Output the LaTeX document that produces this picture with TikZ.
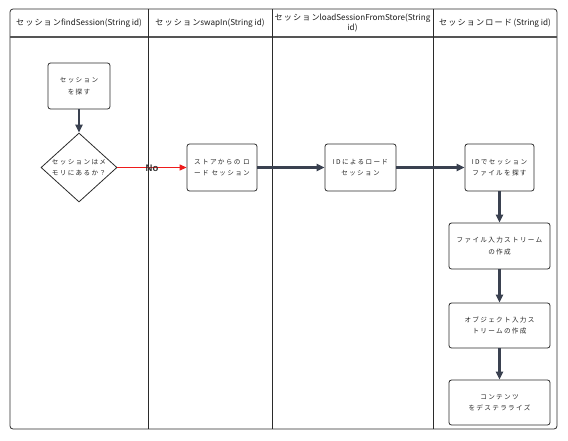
\documentclass[tikz,border=0pt]{standalone}
\usepackage{fontspec}
\setmainfont{Noto Sans CJK JP}
\newfontfamily\jp{Noto Sans CJK JP}[LetterSpace=20]
\newfontfamily\jphead{Noto Sans CJK JP}[LetterSpace=14]
\newfontfamily\latinbold{Liberation Sans}
\usetikzlibrary{shapes.geometric,arrows.meta}
\definecolor{edge}{HTML}{3A4150}
\definecolor{frame}{HTML}{2B2B2B}
\definecolor{noarrow}{HTML}{EE1C1C}
\tikzset{
  every node/.style={font=\jp\fontsize{6.6}{11.5}\selectfont, align=center, text=black!85},
  procbox/.style={draw=frame, line width=0.8pt, rounded corners=2.5pt, inner sep=0pt},
  flow/.style={draw=edge, line width=2.4pt, -{Triangle[length=8pt,width=7pt]}},
  noflow/.style={draw=noarrow, line width=1.2pt, -{Triangle[length=7pt,width=6pt]}},
  lanehead/.style={font=\fontsize{8.1}{10.5}\selectfont, text=black!90},
}
\begin{document}
\begin{tikzpicture}[x=1pt,y=-1pt]
\useasboundingbox (0,0) rectangle (568,440);
% swimlane frame
\draw[frame, line width=0.8pt, rounded corners=3pt] (10,9) rectangle (557,429);
\draw[frame!80, line width=1.2pt] (10,37) -- (557,37);
\foreach \x in {148,272,433} \draw[frame, line width=0.8pt] (\x,9) -- (\x,429);
% headers
\node[lanehead] (h1) at (79,23) {{\jphead セッション}findSession(String id)};
\node[lanehead] (h2) at (210,23) {{\jphead セッション}swapIn(String id)};
\node[lanehead] (h3) at (352.5,23) {{\jphead セッション}loadSessionFromStore(String\\id)};
\node[lanehead] (h4) at (495,23) {{\jphead セッションロード} (String id)};
% nodes
\node[procbox, minimum width=62pt, minimum height=46pt] (find) at (79,86) {セッション\\を探す};
\node[draw=frame, line width=0.8pt, shape=diamond, inner sep=0pt, minimum width=76pt, minimum height=69pt] (dia) at (79,167.5) {};
\node (dialbl) at (dia.center) {セッションはメ\\モリにあるか？};
\node[procbox, minimum width=70pt, minimum height=47pt] (store) at (222,167.5) {ストアからの ロ\\ード セッション};
\node[procbox, minimum width=71pt, minimum height=47pt] (idload) at (360.5,167.5) {IDによるロード\\セッション};
\node[procbox, minimum width=69pt, minimum height=47pt] (idfind) at (499.5,167.5) {IDでセッション\\ファイルを探す};
\node[procbox, minimum width=101pt, minimum height=46pt] (fis) at (499.5,246) {ファイル入力ストリーム\\の作成};
\node[procbox, minimum width=101pt, minimum height=45pt] (ois) at (499.5,325.5) {オブジェクト入力ス\\トリームの作成};
\node[procbox, minimum width=101pt, minimum height=45pt] (deser) at (499.5,402.5) {コンテンツ\\をデステラライズ};
% connectors
\draw[noflow] (dia.east) -- (store.west);
\node[font=\latinbold\bfseries\fontsize{9.5}{10}\selectfont, text=black!80, inner sep=0pt] (nolbl) at (152,168) {No};
\draw[flow] (find) -- (dia);
\draw[flow] (store) -- (idload);
\draw[flow] (idload) -- (idfind);
\draw[flow] (idfind) -- (fis);
\draw[flow] (fis) -- (ois);
\draw[flow] (ois) -- (deser);
\end{tikzpicture}
\end{document}
